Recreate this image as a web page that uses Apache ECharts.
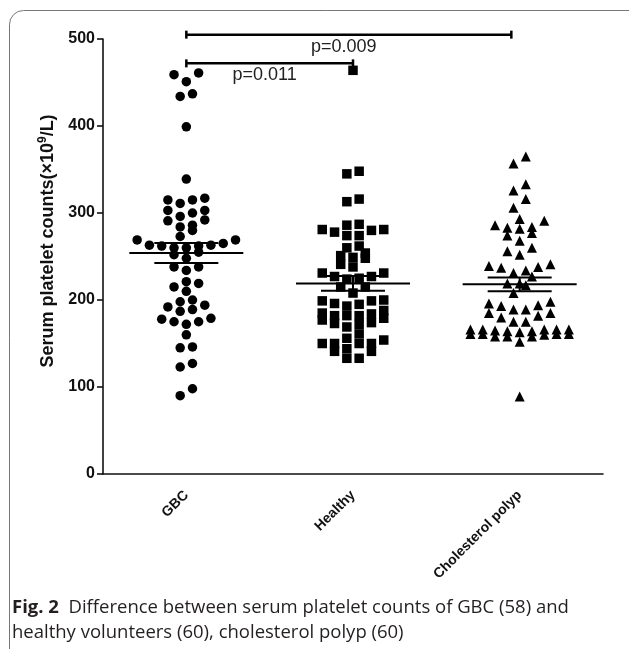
<!DOCTYPE html>
<html>
<head>
<meta charset="utf-8">
<script src="https://cdn.jsdelivr.net/npm/echarts@6/dist/echarts.min.js"></script>
<style>
html,body{margin:0;padding:0;background:#fff;}
#chart{width:629px;height:649px;}
</style>
</head>
<body>
<div id="chart"></div>
<script>
// ---- data ----
const categories = ['GBC', 'Healthy', 'Cholesterol polyp'];
const gbcValues = [461,459,451,437,434,399,339,317,315,315,311,303,300,303,296,291,292,284,286,280,273,269,269,265,262,260,263,262,260,263,255,252,248,238,234,238,219,210,215,221,198,187,192,189,194,200,179,172,175,175,178,160,145,146,127,123,90,98];
const healthyValues = [464,345,348,316,313,286,280,278,274,274,281,281,287,262,251,248,254,260,249,238,241,231,227,225,224,227,231,215,215,208,196,193,200,199,199,195,182,182,177,185,173,184,169,188,172,174,179,182,156,150,144,150,141,150,150,154,161,133,133,141];
const polypValues = [365,357,333,326,316,306,293,286,283,277,282,284,274,291,268,256,252,260,241,238,234,237,239,231,227,219,217,219,208,194,189,185,185,196,198,189,193,182,175,175,180,161,161,166,158,164,158,166,166,152,158,166,164,160,166,161,161,163,165,89];
const meanValues = [254, 219, 218];
const semValues = [11.5, 8.5, 8];
const yMin = 0, yMax = 500, yInterval = 100;
const brackets = [
  { x1: 0.5, x2: 2.45, y: 505, text: 'p=0.009' },
  { x1: 0.5, x2: 1.5, y: 472, text: 'p=0.011' }
];
const captionBold = 'Fig. 2';
const captionText = 'Difference between serum platelet counts of GBC (58) and\nhealthy volunteers (60), cholesterol polyp (60)';

// ---- layout helpers ----
const W = 629, H = 649;
const grid = { left: 103, right: 26, top: 39, bottom: 175 };
const plotW = W - grid.left - grid.right;
const catPx = plotW / categories.length;
const slotPx = 12.3;      // horizontal spacing of symbols in a row
const rowHeight = 10;     // value range gathered into one row (about one symbol tall)

// Prism-style scatter: rows built from the lowest value upward; inside a row the
// lowest points sit in the middle and later ones alternate outwards.
function swarm(values, catIndex) {
  const sorted = values.slice().sort((a, b) => a - b);
  const out = [];
  let i = 0;
  while (i < sorted.length) {
    const start = sorted[i];
    const row = [];
    while (i < sorted.length && sorted[i] <= start + rowHeight) row.push(sorted[i++]);
    const n = row.length;
    const slots = [];
    if (n % 2 === 1) {
      slots.push(0);
      for (let k = 1; slots.length < n; k++) { slots.push(-k); if (slots.length < n) slots.push(k); }
    } else {
      for (let k = 0; slots.length < n; k++) { slots.push(-(k + 0.5)); slots.push(k + 0.5); }
    }
    row.forEach((v, j) => out.push([catIndex + 0.5 + slots[j] * slotPx / catPx, v]));
  }
  return out;
}

const chart = echarts.init(document.getElementById('chart'), null, { renderer: 'canvas' });
const axisFont = 'Liberation Sans, Arial, sans-serif';
const markStyle = { color: '#000', opacity: 1 };

const option = {
  backgroundColor: '#fff',
  animation: false,
  grid: grid,
  xAxis: [
    {
      type: 'category',
      data: categories,
      boundaryGap: true,
      axisLine: { lineStyle: { color: '#111', width: 1.6 } },
      axisTick: { alignWithLabel: true, length: 6, lineStyle: { color: '#111', width: 1.6 } },
      axisLabel: { rotate: 45, margin: 19, color: '#111', fontWeight: 'bold', fontSize: 14, fontFamily: axisFont },
      splitLine: { show: false }
    },
    {
      type: 'value', min: 0, max: categories.length, show: false
    }
  ],
  yAxis: {
    type: 'value', min: yMin, max: yMax, interval: yInterval,
    axisLine: { show: true, lineStyle: { color: '#111', width: 1.6 } },
    axisTick: { show: true, length: 6, lineStyle: { color: '#111', width: 1.6 } },
    axisLabel: { margin: 8, color: '#111', fontWeight: 'bold', fontSize: 16, fontFamily: axisFont },
    splitLine: { show: false }
  },
  graphic: [
    {
      type: 'rect', z: -1, silent: true,
      shape: { x: 9.5, y: 10.5, width: 660, height: 680, r: 14 },
      style: { fill: 'none', stroke: '#777', lineWidth: 1 }
    },
    {
      type: 'text', x: 48, y: 241, rotation: Math.PI / 2,
      style: {
        text: '{n|Serum platelet counts(×10}{s|9}{n|/L)}',
        align: 'center', verticalAlign: 'middle',
        rich: {
          n: { fontSize: 18, fontWeight: 'bold', fill: '#111', fontFamily: axisFont, lineHeight: 22 },
          s: { fontSize: 12, fontWeight: 'bold', fill: '#111', fontFamily: axisFont, verticalAlign: 'top', lineHeight: 22 }
        }
      }
    },
    {
      type: 'text', left: 12, top: 595,
      style: {
        text: '{b|' + captionBold + '}  ' + captionText,
        font: '18.5px "Open Sans", sans-serif',
        fill: '#231f20',
        lineHeight: 25,
        rich: {
          b: { fontWeight: 'bold', fontSize: 18.5, fontFamily: 'Open Sans', fill: '#231f20', lineHeight: 25 }
        }
      }
    }
  ],
  series: [
    {
      type: 'scatter', xAxisIndex: 1, symbol: 'circle', symbolSize: 9.5,
      itemStyle: markStyle, data: swarm(gbcValues, 0), z: 2
    },
    {
      type: 'scatter', xAxisIndex: 1, symbol: 'rect', symbolSize: 9.5,
      itemStyle: markStyle, data: swarm(healthyValues, 1), z: 2
    },
    {
      type: 'scatter', xAxisIndex: 1, symbol: 'triangle', symbolSize: 10,
      itemStyle: markStyle, data: swarm(polypValues, 2), z: 2
    },
    {
      type: 'custom', xAxisIndex: 1, z: 5, clip: false,
      data: meanValues.map((m, i) => [i + 0.5, m, semValues[i]]),
      renderItem: function (params, api) {
        const x = api.value(0), m = api.value(1), s = api.value(2);
        const c = api.coord([x, m]);
        const t = api.coord([x, m + s]);
        const b = api.coord([x, m - s]);
        const st = { stroke: '#000', lineWidth: 2 };
        return {
          type: 'group',
          children: [
            { type: 'line', shape: { x1: c[0] - 57, y1: c[1], x2: c[0] + 57, y2: c[1] }, style: st },
            { type: 'line', shape: { x1: c[0] - 32, y1: t[1], x2: c[0] + 32, y2: t[1] }, style: st },
            { type: 'line', shape: { x1: c[0] - 32, y1: b[1], x2: c[0] + 32, y2: b[1] }, style: st },
            { type: 'line', shape: { x1: c[0], y1: t[1], x2: c[0], y2: b[1] }, style: st }
          ]
        };
      }
    },
    {
      type: 'custom', xAxisIndex: 1, z: 5, clip: false,
      data: brackets.map(b => [b.x1, b.x2, b.y]),
      renderItem: function (params, api) {
        const p1 = api.coord([api.value(0), api.value(2)]);
        const p2 = api.coord([api.value(1), api.value(2)]);
        const txt = brackets[params.dataIndex].text;
        const st = { stroke: '#000', lineWidth: 2.5 };
        return {
          type: 'group',
          children: [
            { type: 'line', shape: { x1: p1[0], y1: p1[1], x2: p2[0], y2: p2[1] }, style: st },
            { type: 'line', shape: { x1: p1[0], y1: p1[1] - 4, x2: p1[0], y2: p1[1] + 4 }, style: st },
            { type: 'line', shape: { x1: p2[0], y1: p2[1] - 4, x2: p2[0], y2: p2[1] + 4 }, style: st },
            { type: 'text', x: (p1[0] + p2[0]) / 2 - 5, y: p1[1] + 12,
              style: { text: txt, fill: '#222', font: '18px "Liberation Sans", Arial, sans-serif', align: 'center', verticalAlign: 'middle' } }
          ]
        };
      }
    }
  ]
};
chart.setOption(option);
</script>
</body>
</html>
